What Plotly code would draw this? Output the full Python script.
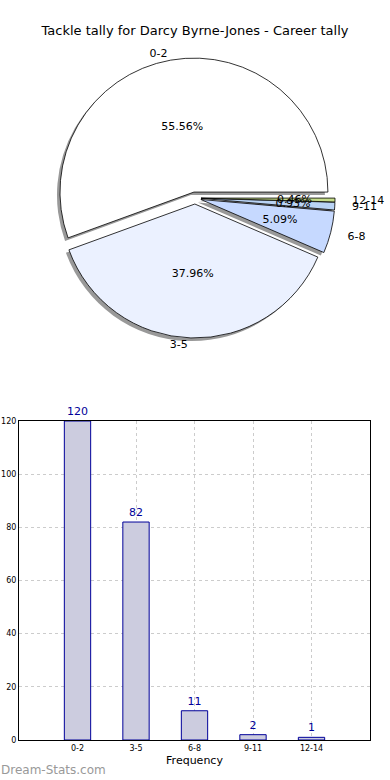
import plotly.graph_objects as go

categories = ["0-2", "3-5", "6-8", "9-11", "12-14"]
counts = [120, 82, 11, 2, 1]
pie_colors = ["#ffffff", "#ebf1ff", "#c6d9ff", "#b9d3f5", "#c5dc8a"]
y_ticks = [0, 20, 40, 60, 80, 100, 120]

W, H = 390, 780
FONT = "DejaVu Sans"
pulls = [0.045] * len(counts)
ROT = -110
big = [c / sum(counts) > 0.2 for c in counts]

fig = go.Figure()


def dom(scale, dx=0.0, dy=0.0):
    cx, cy, half = 195 / W, 1 - 198 / H, 140 * scale
    return dict(x=[cx - half / W + dx, cx + half / W + dx],
                y=[cy - half / H + dy, cy + half / H + dy])


common = dict(labels=categories, values=counts, sort=False,
              direction="counterclockwise", rotation=ROT, pull=pulls, showlegend=False)
clear = dict(colors=["rgba(0,0,0,0)"] * 5, line=dict(width=0))
tfont = dict(family=FONT, size=11, color="#000000")

# shadow
fig.add_trace(go.Pie(
    **common, marker=dict(colors=["#999999"] * 5, line=dict(width=0)),
    textinfo="none", hoverinfo="skip", domain=dom(1, -3 / W, -3 / H),
))
# main pie with percentages of the big slices
fig.add_trace(go.Pie(
    **common, marker=dict(colors=pie_colors, line=dict(color="#000000", width=0.8)),
    texttemplate=["%{percent:.2%}" if b else "" for b in big],
    textposition="inside", insidetextorientation="horizontal",
    textfont=tfont, domain=dom(1),
))
# inner transparent pie carrying the small slices' percentages
fig.add_trace(go.Pie(
    **common, marker=clear,
    texttemplate=["" if b else "%{percent:.2%}" for b in big],
    textposition="inside", insidetextorientation="horizontal", hoverinfo="skip",
    textfont=tfont, domain=dom(0.72),
))
# outside labels (big slices)
fig.add_trace(go.Pie(
    **common, marker=clear,
    texttemplate=["%{label}" if b else "" for b in big],
    textposition="outside", hoverinfo="skip", textfont=tfont, domain=dom(1),
))
# outside labels (small slices, one trace each so they are not pushed apart)
for i, b in enumerate(big):
    if b:
        continue
    fig.add_trace(go.Pie(
        **common, marker=clear,
        texttemplate=["%{label}" if j == i else "" for j in range(len(categories))],
        textposition="outside", hoverinfo="skip", textfont=tfont, domain=dom(1.1),
    ))

# bar chart
fig.add_trace(go.Bar(
    x=list(range(len(categories))), y=counts, width=0.45,
    marker=dict(color="#ccccdf", line=dict(color="#000099", width=1)),
    text=[str(c) for c in counts], textposition="outside",
    textfont=dict(family=FONT, size=11, color="#000099"), cliponaxis=False,
    showlegend=False, xaxis="x", yaxis="y",
))

fig.update_layout(
    width=W, height=H, margin=dict(l=0, r=0, t=0, b=0, autoexpand=False),
    paper_bgcolor="#ffffff", plot_bgcolor="#ffffff",
    font=dict(family=FONT, size=11, color="#000000"),
    uniformtext=dict(minsize=11, mode="show"),
    title=dict(text="Tackle tally for Darcy Byrne-Jones - Career tally",
               x=0.5, xanchor="center", y=1 - 30 / H, yanchor="middle",
               font=dict(family=FONT, size=13, color="#000000")),
    xaxis=dict(domain=[19 / W, 370 / W], range=[-1, 5], automargin=False,
               tickmode="array", tickvals=list(range(len(categories))), ticktext=categories,
               tickfont=dict(size=8), showgrid=True, gridcolor="#cccccc", griddash="dot",
               gridwidth=1, zeroline=False, showline=True, linecolor="#000000", mirror=True,
               ticks="", title=dict(text="Frequency", font=dict(size=11), standoff=4)),
    yaxis=dict(domain=[1 - 740 / H, 1 - 421 / H], range=[0, 120], automargin=False,
               tickmode="array", tickvals=y_ticks, tickfont=dict(size=8),
               showgrid=True, gridcolor="#cccccc", griddash="dot", gridwidth=1,
               zeroline=False, showline=True, linecolor="#000000", mirror=True, ticks=""),
    annotations=[dict(text="Dream-Stats.com", x=-1 / W, y=1 - 770 / H,
                      xref="paper", yref="paper", xanchor="left", yanchor="middle",
                      showarrow=False, font=dict(family=FONT, size=12, color="#999999"))],
)

fig.write_html("out.html", config={"displayModeBar": False},
               post_script="document.body.style.margin='0';")
